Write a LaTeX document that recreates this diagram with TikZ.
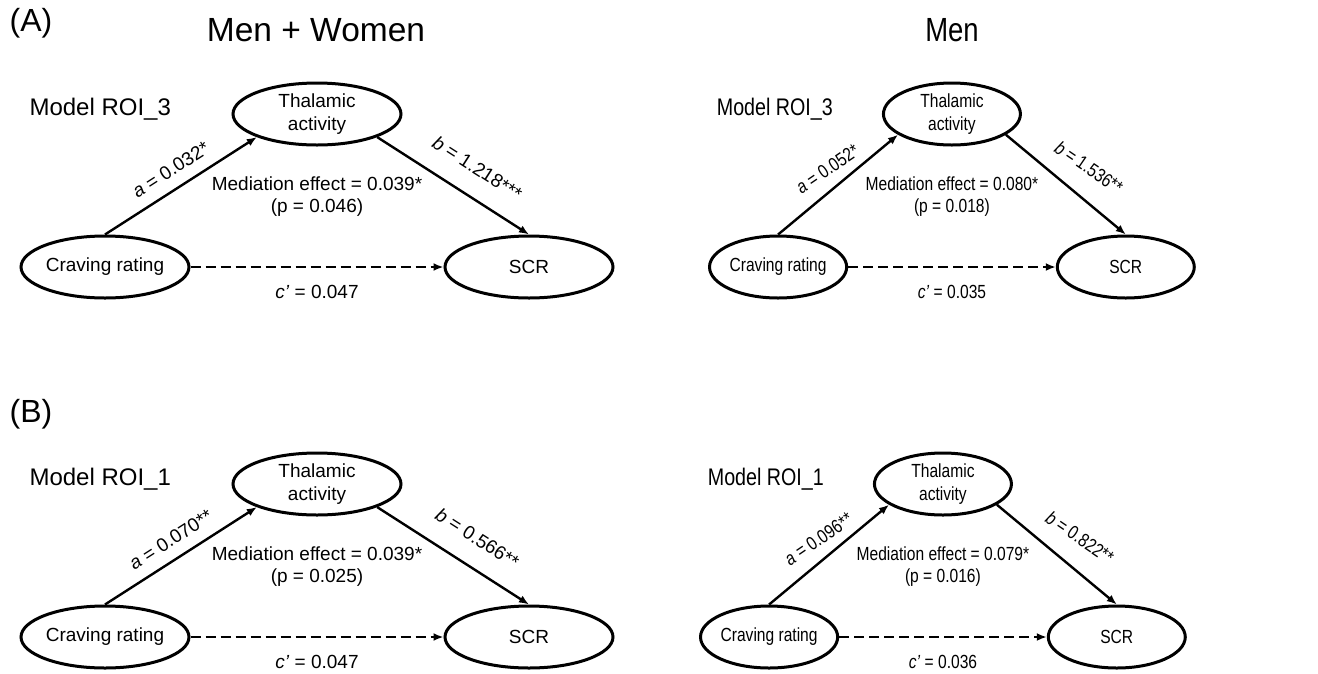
\documentclass[tikz,border=0pt]{standalone}
\usepackage{fontspec}
\setmainfont{Liberation Sans}
\newfontfamily\narrowsf{Liberation Sans}[FakeStretch=0.82]
\usetikzlibrary{shapes.geometric,arrows.meta}

\newcommand{\txtL}{\fontsize{19}{22.5}\selectfont}
\newcommand{\txtR}{\narrowsf\fontsize{19}{22.5}\selectfont}

\tikzset{
  var/.style={draw, ellipse, line width=3pt, inner sep=0pt, align=center, minimum height=62pt},
  effect/.style={line width=2.4pt, -{Latex[length=10pt,width=8pt]}},
  direct/.style={effect, dash pattern=on 10pt off 5pt},
  coef/.style={sloped, above=8pt, inner sep=3pt},
}

\begin{document}
\begin{tikzpicture}[x=1pt,y=-1pt]
\useasboundingbox (0,0) rectangle (1318,673);

\node[font=\fontsize{32}{36}\selectfont] (labA) at (31,23) {(A)};
\node[font=\fontsize{32}{36}\selectfont] (labB) at (31,414) {(B)};
\node[font=\fontsize{33.5}{38}\selectfont] (titleL) at (316,30) {Men + Women};
\node[font=\narrowsf\fontsize{33.5}{38}\selectfont] (titleR) at (952,30) {Men};

% one mediation model per panel
\foreach \p/\ox/\oy/\sx/\ew/\fnt/\roi/\va/\vb/\vm/\vp/\vc in {
  AL/0/0/1/168/\txtL/3/0.032*/1.218***/0.039*/0.046/0.047,
  AR/692/0/0.82/137/\txtR/3/0.052*/1.536**/0.080*/0.018/0.035,
  BL/0/370/1/168/\txtL/1/0.070**/0.566**/0.039*/0.025/0.047,
  BR/683/370/0.82/137/\txtR/1/0.096**/0.822**/0.079*/0.016/0.036}
{
\begin{scope}[shift={(\ox,\oy)}, xscale=\sx, every node/.append style={font=\fnt}]
  \node[anchor=base west, font=\fnt\fontsize{24}{28}\selectfont] (model\p) at (26,115) {Model ROI\_\roi};
  \node[var, minimum width=\ew pt] (thal\p) at (317,114) {Thalamic\\activity};
  \node[var, minimum width=\ew pt] (crav\p) at (105,267) {Craving rating};
  \node[var, minimum width=\ew pt] (scr\p) at (529,267) {SCR};
  \node[align=center] (med\p) at (317,196.5) {Mediation effect = \vm\\(p = \vp)};
  \draw[effect] (crav\p.north) -- node[coef] (a\p) {\textit{a} = \va} (thal\p.201);
  \draw[effect] (thal\p.339) -- node[coef, above=9pt, pos=0.56] (b\p) {\textit{b} = \vb} (scr\p.north);
  \draw[direct] (crav\p.east) -- node[below=14pt] (c\p) {\textit{c’} = \vc} (scr\p.west);
\end{scope}
}
\end{tikzpicture}
\end{document}
